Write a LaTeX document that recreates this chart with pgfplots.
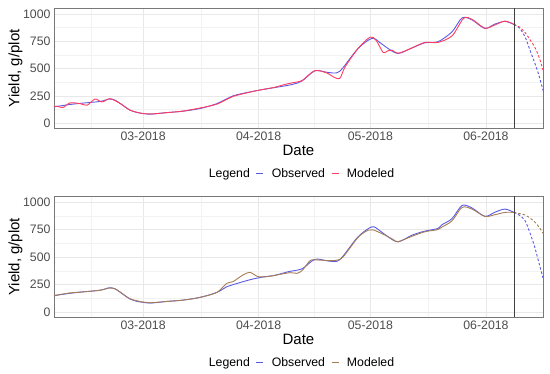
\documentclass[border=0pt]{standalone}
\usepackage{fontspec}
\setmainfont{Liberation Sans}
\usepackage{pgfplots}
\pgfplotsset{compat=1.18}
\definecolor{obs}{RGB}{90,90,230}
\definecolor{modA}{RGB}{255,60,95}
\definecolor{modB}{RGB}{165,125,85}
\definecolor{tickgray}{RGB}{77,77,77}
\definecolor{framegray}{RGB}{120,120,120}
\pgfplotsset{
 panel/.style={
  scale only axis, width=489pt,
  xmin=36.1, xmax=167.3, ymin=-46, ymax=1052,
  xtick={60,91,121,152}, xticklabels={03-2018,04-2018,05-2018,06-2018},
  ytick={0,250,500,750,1000}, yticklabels={0,250,500,750,1000},
  minor xtick={46,75.5,106,136.5}, minor ytick={125,375,625,875},
  grid=both, major grid style={color=black!9, line width=0.5pt},
  minor grid style={color=black!5, line width=0.35pt},
  major tick length=0pt, minor tick length=0pt,
  axis line style={framegray, line width=0.8pt},
  tick label style={font=\fontsize{12.3}{14}\selectfont, text=tickgray},
  xlabel={Date}, ylabel={Yield, g/plot},
  label style={font=\fontsize{15}{18}\selectfont},
  xlabel style={at={(axis description cs:0.5,0)}, anchor=center, yshift=-22pt},
  ylabel style={at={(axis description cs:-0.0787,0.5)}, anchor=center},
  legend columns=-1,
  legend style={at={(axis description cs:0.5,0)}, anchor=center, yshift=-45pt,
    draw=none, fill=none, font=\fontsize{12.3}{14}\selectfont,
    /tikz/every even column/.append style={column sep=4pt},
    /tikz/every odd column/.append style={column sep=6pt}},
  legend image code/.code={\draw[#1] (0pt,0pt) -- (7pt,0pt);},
  every axis plot/.append style={line width=0.9pt},
 }
}
\begin{document}
\begin{tikzpicture}
\path[use as bounding box] (0,0) rectangle (550pt,373pt);
% ---------- top panel ----------
\begin{axis}[panel, height=120pt, at={(54pt,244.7pt)}, anchor=south west]
\addlegendimage{empty legend}\addlegendentry{Legend}
\addplot[obs, smooth, tension=0.5] coordinates {
(36.1,150) (38,160) (40.4,172) (44,185) (48.5,200) (51,222) (52.5,212) (54,178) (56.5,120) (58.5,98) (60,90) (62,83) (66.4,98) (70.7,110) (75.3,135) (79.8,180) (84.1,250) (88.7,287) (92.2,309) (95.4,327) (100,355) (102.7,388) (106.1,480) (109.6,465) (112,462) (113.6,507) (117.7,685) (121.4,777) (123.5,740) (125.5,690) (128.4,639) (132.2,690) (135.6,736) (139.1,746) (142.9,837) (145.6,965) (148.3,945) (151.7,868) (154.4,908) (157.1,932) (159.5,905)};
\addlegendentry{Observed}
\addplot[modA, smooth, tension=0.5] coordinates {
(36.1,152) (36.9,156) (38.5,144) (40.4,186) (43.1,180) (45,165) (47.1,222) (49,195) (51.1,225) (54,178) (56.5,120) (60,88) (62,85) (66.4,97) (70.7,112) (75.3,140) (79.8,175) (84.1,245) (88.7,285) (92.2,310) (95.4,330) (98,355) (100,370) (102.7,392) (106.1,482) (109.6,456) (111,425) (112.8,412) (114.2,516) (117.7,685) (120.9,788) (122.5,760) (124.4,648) (125.5,660) (126.8,670) (128.4,640) (132.2,690) (135.6,740) (139.1,740) (142.9,800) (146,960) (148.3,950) (151.7,870) (154.4,900) (157.1,935) (159.5,905)};
\addlegendentry{Modeled}
\addplot[obs, smooth, dash pattern=on 2.5pt off 2pt, forget plot] coordinates {
(159.5,905) (161,870) (162.5,790) (163.8,670) (165,560) (166.2,440) (167.3,300)};
\addplot[modA, smooth, dash pattern=on 2.5pt off 2pt, forget plot] coordinates {
(159.5,905) (161,880) (162.5,830) (163.8,765) (165.2,690) (166.3,600) (167.3,486)};
\addplot[black!75, line width=0.8pt, forget plot] coordinates {(159.6,-46) (159.6,1052)};
\end{axis}
% ---------- bottom panel ----------
\begin{axis}[panel, height=121pt, at={(54pt,55.7pt)}, anchor=south west]
\addlegendimage{empty legend}\addlegendentry{Legend}
\addplot[obs, smooth, tension=0.5] coordinates {
(36.1,150) (38,160) (40.4,172) (44,185) (48.5,200) (51,222) (52.5,212) (54,178) (56.5,120) (58.5,98) (60,90) (62,83) (66.4,98) (70.7,110) (75.3,135) (79.8,180) (82.5,232) (84.1,250) (88.7,295) (92.2,320) (95.4,335) (99,368) (102.7,395) (106.1,480) (109.6,465) (112,462) (113.6,507) (117.7,685) (121.4,775) (123.5,740) (125.5,690) (128.4,639) (132.2,700) (135.6,736) (139.1,760) (140.2,794) (142.9,850) (145.6,969) (148.3,945) (151.7,870) (154.4,908) (157.1,936) (159.5,906)};
\addlegendentry{Observed}
\addplot[modB, smooth, tension=0.5] coordinates {
(36.1,152) (40.4,175) (44,185) (48.5,200) (51,220) (52.5,212) (54,180) (56.5,122) (60,92) (62,86) (66.4,98) (70.7,110) (75.3,135) (79.8,180) (82.5,263) (84.1,277) (86.8,338) (88.7,362) (90.8,323) (93.3,323) (95.4,335) (99.4,359) (101.3,353) (102.7,380) (104.8,468) (106.1,475) (109,470) (111.5,470) (113.6,500) (117.7,680) (120.4,745) (121.7,748) (124.9,700) (127.1,660) (128.4,640) (132.2,690) (135.6,730) (139.1,750) (140.2,773) (142.9,830) (145.6,951) (148.3,935) (151.7,870) (154.4,885) (157.1,906) (159.5,906)};
\addlegendentry{Modeled}
\addplot[obs, smooth, dash pattern=on 2.5pt off 2pt, forget plot] coordinates {
(159.5,906) (161,880) (162.5,830) (163.8,720) (165,600) (166.2,450) (167.3,311)};
\addplot[modB, smooth, dash pattern=on 2.5pt off 2pt, forget plot] coordinates {
(159.5,906) (161,895) (162.5,882) (164,850) (165.2,815) (166.3,770) (167.3,718)};
\addplot[black!75, line width=0.8pt, forget plot] coordinates {(159.6,-46) (159.6,1052)};
\end{axis}
\end{tikzpicture}
\end{document}
